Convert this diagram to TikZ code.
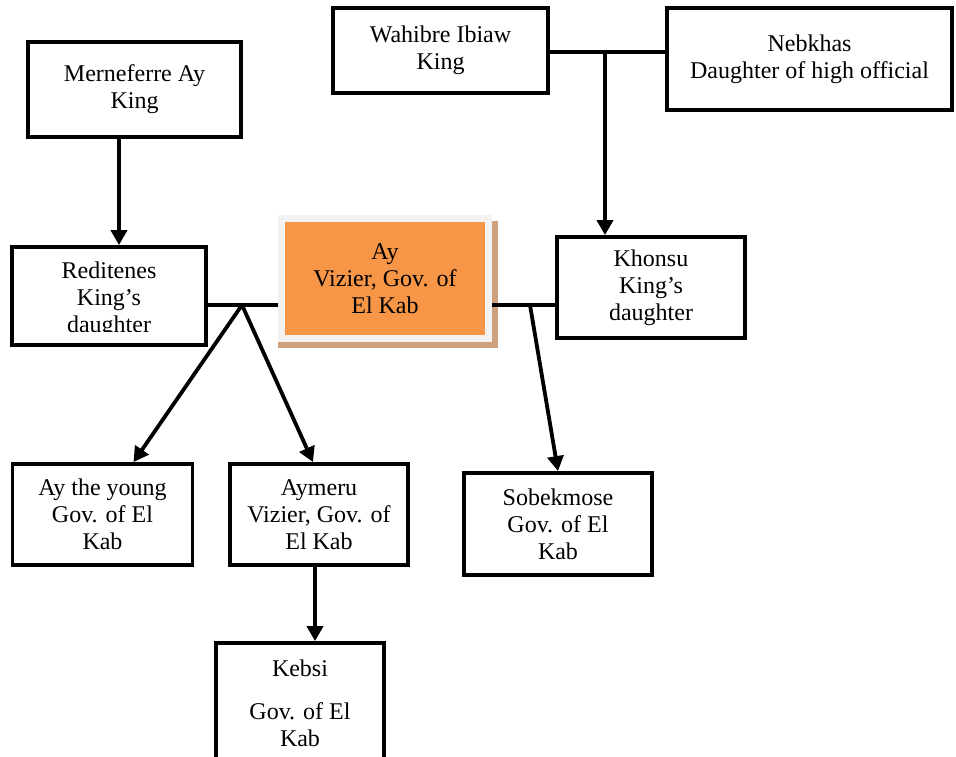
\documentclass[tikz,border=0pt]{standalone}
\usepackage{fontspec}
\setmainfont{Liberation Serif}
\usepackage{xcolor}
\usepackage{tikz}
\usetikzlibrary{arrows.meta,positioning,calc,shadows}
\definecolor{ayorange}{HTML}{F79646}
\definecolor{ayframe}{HTML}{F2F2F2}
\definecolor{ayshadow}{HTML}{CDA17E}

\begin{document}
\begin{tikzpicture}[
    x=1pt, y=-1pt,
    box/.style={draw, rectangle, line width=3.8pt, align=center, inner sep=0pt, font=\fontsize{24}{27}\selectfont},
    aybox/.style={box, draw=ayframe, fill=ayorange, line width=7pt, general shadow={shadow xshift=3pt, shadow yshift=-6pt, shadow scale=1.06, fill=ayshadow}},
    arrow/.style={-{Triangle[width=16pt,length=15pt]}, line width=3.8pt},
    link/.style={line width=3.8pt}
]
\useasboundingbox (0,0) rectangle (956,757);

\node[box, minimum width=213pt, minimum height=95pt] (merneferre) at (134.5,89.5) {Merneferre Ay\\King};
\node[box, minimum width=215pt, minimum height=85pt] (wahibre) at (440.5,50.5) {Wahibre Ibiaw\\King};
\node[box, minimum width=285pt, minimum height=102pt] (nebkhas) at (809.5,59) {Nebkhas\\Daughter of high official};
\node[box, minimum width=194pt, minimum height=98pt] (reditenes) at (109,296) {};
\begin{scope}
    \clip (12,247) rectangle (206,331);
    \node[box, draw=none] (reditext) at ($(reditenes)+(0,4)$) {Reditenes\\King’s\\daughter};
\end{scope}
\node[aybox, minimum width=207pt, minimum height=120pt] (ay) at (385,278.5) {Ay\\Vizier, Gov. of\\El Kab};
\node[box, minimum width=188pt, minimum height=101pt] (khonsu) at (651,287.5) {Khonsu\\King’s\\daughter};
\node[box, minimum width=180pt, minimum height=101pt] (ayyoung) at (102.5,514.5) {Ay the young\\Gov. of El\\Kab};
\node[box, minimum width=178pt, minimum height=101pt] (aymeru) at (319,514.5) {Aymeru\\Vizier, Gov. of\\El Kab};
\node[box, minimum width=188pt, minimum height=102pt] (sobekmose) at (558,524) {Sobekmose\\Gov. of El\\Kab};
\node[box, minimum width=168pt, minimum height=120pt] (kebsi) at (300,703) {Kebsi\\[16pt]Gov. of El\\Kab};

\coordinate (wnmid) at (605,52);
\coordinate (aymid) at (242,305);
\coordinate (khmid) at (530,305);

\draw[link] (wahibre.east |- wnmid) -- (nebkhas.west |- wnmid);
\draw[link] (reditenes.east |- aymid) -- (ay.west |- aymid);
\draw[link] (ay.east |- khmid) -- (khonsu.west |- khmid);

\draw[arrow] ($(merneferre.south)+(-15.5,0)$) -- ($(reditenes.north)+(10,0)$);
\draw[arrow] (wnmid) -- (wnmid |- khonsu.north);
\draw[arrow] (aymid) -- ($(ayyoung.north)+(31,0)$);
\draw[arrow] (aymid) -- ($(aymeru.north)+(-6,0)$);
\draw[arrow] (khmid) -- (sobekmose.north);
\draw[arrow] ($(aymeru.south)+(-4,0)$) -- ($(kebsi.north)+(15,0)$);

\end{tikzpicture}
\end{document}
